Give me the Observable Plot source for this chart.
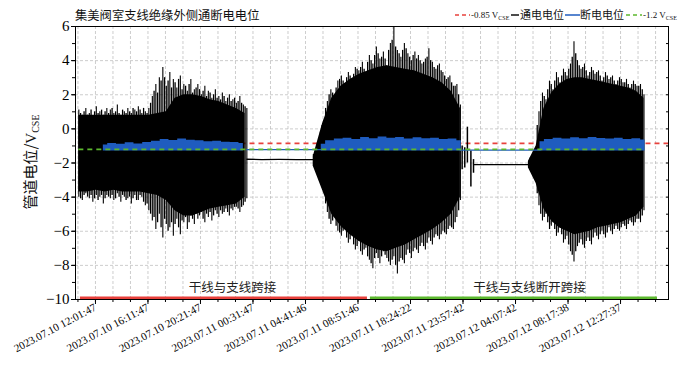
<!DOCTYPE html>
<html><head><meta charset="utf-8">
<script src="https://cdn.jsdelivr.net/npm/d3@7"></script>
<script src="https://cdn.jsdelivr.net/npm/@observablehq/plot@0.6"></script>
<style>body{margin:0;background:#fff}</style>
</head><body><div id="chart"></div>
<script>
// x tick labels (sample-index axis, labelled with timestamps)
const xTickPos = [0,3,6,9,12,15,18,21,24,27,30];
const xLabels = ["2023.07.10 12:01:47","2023.07.10 16:11:47","2023.07.10 20:21:47","2023.07.11 00:31:47","2023.07.11 04:41:46","2023.07.11 08:51:46","2023.07.11 18:24:22","2023.07.11 23:57:42","2023.07.12 04:07:42","2023.07.12 08:17:38","2023.07.12 12:27:37"];

// on-potential, segment A: spike extremes (two interleaved column sets) and dense core
const aStart = -0.95, aStep = 0.2;
const aTop = [1.1,0.8,1.2,0.9,0.7,1.3,1.0,0.8,1.2,1.1,0.9,1.4,0.8,1.0,1.2,0.9,1.1,1.3,0.9,1.0,1.2,1.9,2.6,3.0,3.6,2.5,3.3,2.9,2.4,3.1,2.6,2.2,2.9,2.3,2.6,2.0,2.5,2.2,1.8,2.3,1.9,2.1,1.6,2.0,1.7,1.5,1.9,1.4,1.2];
const aBot = [-4.0,-4.2,-3.8,-4.1,-4.3,-3.9,-4.0,-4.4,-3.9,-4.1,-4.2,-3.8,-4.3,-4.0,-4.1,-4.4,-3.9,-4.2,-4.0,-4.5,-4.8,-5.4,-5.9,-5.0,-6.4,-5.6,-5.8,-6.3,-5.3,-6.2,-5.5,-5.9,-5.1,-5.6,-5.3,-4.9,-5.5,-5.2,-5.4,-4.8,-5.2,-5.0,-4.7,-5.1,-4.8,-4.6,-4.9,-4.5,-4.1];
const aMidTop = [0.9,1.0,0.8,1.1,1.0,0.9,1.1,1.0,0.9,1.2,1.0,0.9,1.1,0.9,1.0,1.2,1.0,1.1,1.2,0.9,1.5,2.2,2.1,2.8,3.0,2.8,2.4,2.7,2.9,2.3,2.5,2.6,2.1,2.4,2.3,2.2,1.9,2.1,2.0,1.8,1.7,1.9,1.8,1.6,1.8,1.6,1.5,1.3];
const aMidBot = [-4.1,-3.9,-4.0,-3.9,-4.1,-4.2,-3.9,-4.1,-4.0,-3.9,-4.1,-4.0,-3.9,-4.2,-4.0,-4.1,-4.2,-3.9,-4.3,-4.4,-5.0,-5.2,-5.5,-5.8,-5.3,-6.0,-5.5,-5.6,-5.8,-5.4,-5.2,-5.5,-5.3,-5.0,-5.1,-5.3,-5.0,-4.9,-5.1,-5.0,-4.8,-4.9,-4.9,-4.7,-4.6,-4.7,-4.6,-4.3];
const aCoreStep = 0.5;
const aCoreTop = [0.8,0.8,0.8,0.8,0.8,0.8,0.8,0.8,0.8,0.9,1.0,1.8,2.0,2.0,1.9,1.7,1.6,1.4,1.2,0.9];
const aCoreBot = [-3.7,-3.7,-3.6,-3.7,-3.6,-3.7,-3.7,-3.7,-3.8,-3.9,-4.2,-4.8,-5.1,-5.1,-4.9,-4.7,-4.6,-4.5,-4.4,-4.0];
// segment B
const bStart = 12.45, bStep = 0.2;
const bTop = [-1.5,-1.6,-0.2,0.5,1.6,2.3,1.9,2.8,3.1,2.5,3.3,2.9,3.6,3.4,3.9,3.2,4.3,3.8,4.8,4.1,4.5,3.7,5.0,6.0,4.6,4.2,5.0,4.4,4.0,4.5,4.3,3.8,4.1,4.7,3.9,3.5,3.8,3.3,2.9,3.1,2.5,2.6,1.4];
const bBot = [-2.2,-2.3,-2.4,-3.5,-4.9,-5.6,-5.2,-6.0,-6.3,-5.8,-6.7,-6.2,-7.1,-6.6,-7.4,-7.0,-7.7,-8.2,-7.3,-7.9,-7.2,-7.6,-8.0,-7.5,-8.5,-7.6,-7.9,-7.1,-7.6,-7.0,-7.3,-6.7,-7.1,-6.4,-6.8,-6.2,-6.5,-6.0,-6.2,-5.7,-5.9,-5.2,-4.2];
const bMidTop = [-1.55,-0.9,0.2,1.2,2.0,2.1,2.4,2.9,2.8,3.0,3.1,3.2,3.5,3.6,3.5,3.9,4.0,4.3,4.4,4.2,4.1,4.6,5.2,4.8,4.4,4.6,4.7,4.2,4.3,4.1,4.0,3.9,4.2,4.0,3.6,3.7,3.4,3.1,3.0,2.7,2.5,2.0];
const bMidBot = [-2.25,-2.35,-3.0,-4.4,-5.3,-5.4,-5.7,-6.1,-6.0,-6.4,-6.5,-6.8,-6.9,-7.2,-7.1,-7.5,-7.9,-7.6,-7.6,-7.5,-7.4,-7.8,-7.7,-8.0,-7.8,-7.7,-7.4,-7.3,-7.2,-7.1,-6.9,-6.9,-6.7,-6.6,-6.4,-6.3,-6.2,-6.1,-5.9,-5.8,-5.5,-4.8];
const bCoreStep = 0.525;
const bCoreTop = [-1.6,0.3,1.8,2.5,2.9,3.2,3.4,3.6,3.7,3.6,3.5,3.4,3.2,3.0,2.7,2.2,1.2];
const bCoreBot = [-2.2,-3.6,-5.0,-5.7,-6.2,-6.6,-6.9,-7.1,-7.2,-7.0,-6.8,-6.5,-6.2,-5.9,-5.5,-5.0,-4.0];
// segment C
const cStart = 24.74, cStep = 0.2;
const cTop = [-1.9,-1.6,-1.2,1.0,2.1,1.7,2.8,2.3,3.3,2.7,3.5,3.1,3.8,5.1,4.0,3.5,3.8,3.1,3.6,3.2,3.4,2.8,3.3,2.9,3.1,2.6,3.0,2.7,2.9,2.4,2.8,2.5,2.6,2.0];
const cBot = [-2.3,-2.6,-3.0,-4.5,-5.4,-5.0,-5.9,-5.5,-6.3,-5.8,-6.7,-6.3,-7.2,-7.8,-6.9,-6.5,-7.0,-6.4,-6.8,-6.1,-6.5,-6.0,-6.4,-5.8,-6.2,-5.7,-6.0,-5.6,-5.9,-5.4,-5.7,-5.3,-5.5,-4.8];
const cMidTop = [-1.7,-1.4,0.2,1.6,1.9,2.3,2.6,2.8,3.0,3.1,3.3,3.5,4.2,4.4,3.7,3.6,3.4,3.3,3.4,3.3,3.1,3.0,3.1,3.0,2.8,2.8,2.9,2.7,2.6,2.6,2.6,2.5,2.3];
const cMidBot = [-2.4,-2.8,-3.8,-5.0,-5.2,-5.5,-5.7,-5.9,-6.1,-6.2,-6.5,-6.8,-7.4,-7.2,-6.7,-6.8,-6.6,-6.6,-6.4,-6.3,-6.2,-6.2,-6.1,-6.0,-5.9,-5.9,-5.8,-5.7,-5.6,-5.5,-5.5,-5.3,-5.1];
const cCoreStep = 0.44;
const cCoreTop = [-1.9,-1.0,1.2,2.1,2.6,2.9,3.0,3.0,2.9,2.8,2.7,2.6,2.5,2.4,2.2,1.8];
const cCoreBot = [-2.3,-3.2,-4.7,-5.4,-5.8,-6.0,-6.2,-6.1,-6.0,-5.8,-5.7,-5.6,-5.5,-5.3,-5.1,-4.6];
// flat on-potential during gaps
const gapAX = [8.65,9.5,10.5,11.5,12.45];
const gapAY = [-1.78,-1.8,-1.79,-1.8,-1.8];
const gapBX = [21.6,22.5,23.5,24.2,24.74];
const gapBY = [-2.1,-2.1,-2.09,-2.1,-2.1];
// spikes in gap B
const spikeX = [20.95,21.1,21.25,21.45,21.6];
const spikeTop = [-1.0,-1.1,0.1,-1.3,-1.8];
const spikeBot = [-2.4,-2.3,-2.0,-3.4,-2.6];

// off-potential band
const offAStart = 0.45, offStep = 0.5;
const offATop = [-0.95,-0.85,-0.9,-0.82,-0.88,-0.8,-0.72,-0.62,-0.68,-0.6,-0.66,-0.7,-0.75,-0.72,-0.78,-0.8,-0.85];
const offBStart = 12.9;
const offBTop = [-0.9,-0.7,-0.6,-0.55,-0.62,-0.5,-0.58,-0.48,-0.55,-0.5,-0.6,-0.52,-0.58,-0.55,-0.62,-0.6,-0.7];
const offCStart = 25.4;
const offCTop = [-0.75,-0.62,-0.55,-0.6,-0.52,-0.58,-0.5,-0.56,-0.6,-0.55,-0.62,-0.58,-0.65];
const offBase = -1.3;
const offGapAX = [8.65,12.9], offGapAY = [-1.22,-1.22];
const offGapBX = [20.85,25.4], offGapBY = [-1.25,-1.25];

// reference levels
const ref085 = -0.85, ref12 = -1.2;
// phase bars
const phaseNames = ["干线与支线跨接","干线与支线断开跨接"];
const phaseX1 = [-0.86, 15.71], phaseX2 = [15.54, 32.11];
const phaseLabelX = [7.83, 24.8];

function cols(start, step, tops, bots){
  return tops.map((t,i)=>({x:start+i*step, top:t, bot:bots[i]}));
}
const segA = cols(aStart,aStep,aTop,aBot), midA = cols(aStart+aStep/2,aStep,aMidTop,aMidBot), coreA = cols(aStart,aCoreStep,aCoreTop,aCoreBot);
const segB = cols(bStart,bStep,bTop,bBot), midB = cols(bStart+bStep/2,bStep,bMidTop,bMidBot), coreB = cols(bStart,bCoreStep,bCoreTop,bCoreBot);
const segC = cols(cStart,cStep,cTop,cBot), midC = cols(cStart+cStep/2,cStep,cMidTop,cMidBot), coreC = cols(cStart,cCoreStep,cCoreTop,cCoreBot);
const offA = offATop.map((t,i)=>({x:offAStart+i*offStep, top:t, bot:offBase}));
const offB = offBTop.map((t,i)=>({x:offBStart+i*offStep, top:t, bot:offBase}));
const offC = offCTop.map((t,i)=>({x:offCStart+i*offStep, top:t, bot:offBase}));
const gapA = gapAX.map((x,i)=>({x, y:gapAY[i]}));
const gapB = gapBX.map((x,i)=>({x, y:gapBY[i]}));
const spikes = spikeX.map((x,i)=>({x, y1:spikeBot[i], y2:spikeTop[i]}));
const offGA = offGapAX.map((x,i)=>({x,y:offGapAY[i]}));
const offGB = offGapBX.map((x,i)=>({x,y:offGapBY[i]}));
const phases = phaseNames.map((n,i)=>({n, x1:phaseX1[i], x2:phaseX2[i], lx:phaseLabelX[i]}));

const xMin = -1.14, xMax = 32.74;
const dataEnd = cStart + (cTop.length-1)*cStep;
const minorX = d3.range(-1, 33, 1);
const minorY = d3.range(-10, 7, 1);
const majorY = d3.range(-10, 7, 2);
const RED = "#e8413c", GREEN = "#5cb82e", BLUE = "#1f5cbf";
const serif = "Liberation Serif, Times New Roman, serif";
const cjk = "Noto Sans CJK SC, sans-serif";
const none = () => "";

const core = (d) => Plot.areaY(d, {x: "x", y1: "bot", y2: "top", fill: "#000", curve: "linear"});
const whisk = (d, w) => Plot.ruleX(d, {x: "x", y1: "bot", y2: "top", stroke: "#000", strokeWidth: w});

const chart = Plot.plot({
  width: 696, height: 369,
  marginLeft: 75, marginRight: 28, marginTop: 26, marginBottom: 70,
  x: {domain: [xMin, xMax]},
  y: {domain: [-10, 6]},
  style: {fontFamily: serif, background: "#fff"},
  marks: [
    Plot.gridX(minorX, {stroke: "#b8b8b8", strokeOpacity: 0.7, strokeDasharray: "3,2"}),
    Plot.gridY(majorY, {stroke: "#b8b8b8", strokeOpacity: 0.7, strokeDasharray: "3,2"}),
    Plot.ruleY([ref085], {x1: xMin + 0.2, x2: xMax, stroke: RED, strokeWidth: 1.8, strokeDasharray: "5,4"}),
    whisk(segA, 1.1), whisk(segB, 1.1), whisk(segC, 1.1),
    whisk(midA, 1.3), whisk(midB, 1.3), whisk(midC, 1.3),
    core(coreA), core(coreB), core(coreC),
    Plot.line(gapA, {x: "x", y: "y", stroke: "#000", strokeWidth: 1.3}),
    Plot.line(gapB, {x: "x", y: "y", stroke: "#000", strokeWidth: 1.3}),
    Plot.ruleX(spikes, {x: "x", y1: "y1", y2: "y2", stroke: "#000", strokeWidth: 1.5}),
    Plot.areaY(offA, {x: "x", y1: "bot", y2: "top", fill: BLUE, curve: "step"}),
    Plot.areaY(offB, {x: "x", y1: "bot", y2: "top", fill: BLUE, curve: "step"}),
    Plot.areaY(offC, {x: "x", y1: "bot", y2: "top", fill: BLUE, curve: "step"}),
    Plot.line(offGA, {x: "x", y: "y", stroke: BLUE, strokeWidth: 1.3}),
    Plot.line(offGB, {x: "x", y: "y", stroke: BLUE, strokeWidth: 1.3}),
    Plot.ruleY([ref12], {x1: aStart, x2: dataEnd, stroke: GREEN, strokeWidth: 1.8, strokeDasharray: "5,4"}),
    Plot.ruleY(phases.slice(0,1), {y: -9.9, x1: "x1", x2: "x2", stroke: RED, strokeWidth: 2.5}),
    Plot.ruleY(phases.slice(1), {y: -9.9, x1: "x1", x2: "x2", stroke: GREEN, strokeWidth: 2.5}),
    Plot.text(phases, {x: "lx", y: -9.3, text: "n", fontFamily: cjk, fontSize: 12.5, fill: "#222"}),
    Plot.frame({stroke: "#000", strokeWidth: 1}),
    Plot.axisX(xTickPos, {tickFormat: (d) => xLabels[xTickPos.indexOf(d)], tickRotate: -28, tickSize: 5, tickPadding: 2, fontSize: 11, fontFamily: serif, letterSpacing: "-0.6px", label: null}),
    Plot.axisX(minorX.filter(v => v >= xMin && v <= xMax), {tickFormat: none, tickSize: 3, label: null}),
    Plot.axisY(majorY, {tickSize: 4, tickPadding: 2, fontSize: 15, fontFamily: serif, label: null}),
    Plot.axisY(minorY, {tickFormat: none, tickSize: 3, label: null}),
    Plot.axisY(minorY, {anchor: "right", tickFormat: none, tickSize: -3, label: null})
  ]
});
document.getElementById("chart").appendChild(chart);

const svg = d3.select(chart);
// title
svg.append("text").attr("x", 75).attr("y", 20).attr("text-anchor", "start").attr("font-family", cjk).attr("font-size", 12.3).attr("fill", "#111").text("集美阀室支线绝缘外侧通断电电位");
// y label
const yl = svg.append("text").attr("transform", "translate(36,162) rotate(-90)").attr("text-anchor", "middle").attr("font-size", 15).attr("fill", "#111");
yl.append("tspan").attr("font-family", cjk).text("管道电位/");
yl.append("tspan").attr("font-family", serif).text("V");
yl.append("tspan").attr("font-family", serif).attr("font-size", 10).attr("dy", 3).text("CSE");
// legend
const lg = svg.append("g").attr("font-family", serif).attr("text-anchor", "start");
function legendLine(x1, x2, color, dash){
  lg.append("line").attr("x1", x1).attr("x2", x2).attr("y1", 15).attr("y2", 15).attr("stroke", color).attr("stroke-width", 1.5).attr("stroke-dasharray", dash || null);
}
function legendRef(x, label){
  const t = lg.append("text").attr("x", x).attr("y", 18).attr("font-size", 9).attr("fill", "#111");
  t.append("tspan").text(label + " V");
  t.append("tspan").attr("font-size", 6).attr("dy", 2).text("CSE");
}
legendLine(455, 470, RED, "4,3");
legendRef(471, "-0.85");
legendLine(511, 519, "#111");
lg.append("text").attr("x", 520).attr("y", 19).attr("font-family", cjk).attr("font-size", 11).attr("fill", "#111").text("通电电位");
legendLine(565, 580, BLUE);
lg.append("text").attr("x", 580).attr("y", 19).attr("font-family", cjk).attr("font-size", 11).attr("fill", "#111").text("断电电位");
legendLine(626, 642, GREEN, "4,3");
legendRef(643, "-1.2");
</script></body></html>
